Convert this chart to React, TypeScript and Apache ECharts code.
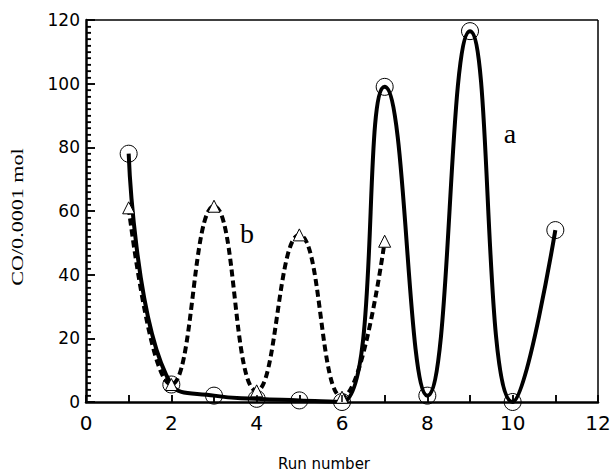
import React, { useEffect, useRef } from "react";
import * as echarts from "echarts";

const runs = [1, 2, 3, 4, 5, 6, 7, 8, 9, 10, 11];
const seriesA = [78, 5.5, 2, 1, 0.5, 0, 99, 2, 116.5, 0, 54];
const seriesB = [61, 5.5, 61.5, 3.5, 52.5, 1.5, 50.5];
const xTicks = [0, 2, 4, 6, 8, 10, 12];
const yTicks = [0, 20, 40, 60, 80, 100, 120];

export default function App() {
  const ref = useRef<HTMLDivElement>(null);
  useEffect(() => {
    document.body.style.margin = "0";
    const chart = echarts.init(ref.current!, null, { renderer: "svg" });
    const sans = "DejaVu Sans";
    const serif = "Liberation Serif";
    const xMin = xTicks[0];
    const xMax = xTicks[xTicks.length - 1];
    const yMin = yTicks[0];
    const yMax = yTicks[yTicks.length - 1];

    const gridLeft = 86;
    const gridRight = 18;
    const gridTop = 20;
    const gridBottom = 73;
    const plotW = 616 - gridLeft - gridRight;
    const plotH = 475 - gridTop - gridBottom;
    const pxX = (xMax - xMin) / plotW; // value units per pixel, x
    const pxY = (yMax - yMin) / plotH; // value units per pixel, y

    // tick segments as mark lines (inward ticks)
    const tickLines: any[] = [];
    for (let v = xMin; v <= xMax; v += 1) {
      tickLines.push([{ coord: [v, yMin] }, { coord: [v, yMin + 7 * pxY] }]);
    }
    for (let v = yMin; v <= yMax; v += 2) {
      const len = v % 20 === 0 ? 9 : 5;
      tickLines.push([{ coord: [xMin, v] }, { coord: [xMin + len * pxX, v] }]);
    }
    // top and right frame
    tickLines.push([{ coord: [xMin, yMax] }, { coord: [xMax, yMax] }]);
    tickLines.push([{ coord: [xMax, yMin] }, { coord: [xMax, yMax] }]);

    chart.setOption({
      animation: false,
      grid: { left: gridLeft, top: gridTop, right: gridRight, bottom: gridBottom },
      xAxis: {
        type: "value",
        min: xMin,
        max: xMax,
        interval: 2,
        axisLine: { show: true, onZero: false, lineStyle: { color: "#000", width: 2.5 } },
        axisTick: { show: true, inside: true, length: 7, lineStyle: { color: "#000", width: 1.5 } },
        minorTick: { show: true, splitNumber: 2, length: 7, lineStyle: { color: "#000", width: 1.5 } },
        axisLabel: { color: "#000", fontSize: 20, fontFamily: sans, margin: 11 },
        splitLine: { show: true, lineStyle: { color: "rgba(255,255,255,0)" } },
      },
      yAxis: {
        type: "value",
        min: yMin,
        max: yMax,
        interval: 20,
        axisLine: { show: true, onZero: false, lineStyle: { color: "#000", width: 2.5 } },
        axisTick: { show: true, inside: true, length: 9, lineStyle: { color: "#000", width: 1.5 } },
        minorTick: { show: true, splitNumber: 10, length: 5, lineStyle: { color: "#000", width: 1.2 } },
        axisLabel: { color: "#000", fontSize: 17, fontFamily: sans, margin: 6 },
        splitLine: { show: true, lineStyle: { color: "rgba(255,255,255,0)" } },
      },
      graphic: [
        {
          type: "text",
          x: 17,
          y: 217,
          rotation: Math.PI / 2,
          scaleX: 1.3,
          style: {
            text: "CO/0.0001 mol",
            fontFamily: serif,
            fontSize: 17,
            fill: "#000",
            align: "center",
            verticalAlign: "middle",
          },
        },
        {
          type: "text",
          x: 324,
          y: 464,
          style: {
            text: "Run number",
            fontFamily: sans,
            fontSize: 15,
            fill: "#000",
            align: "center",
            verticalAlign: "middle",
          },
        },
        {
          type: "text",
          x: 510,
          y: 133,
          style: { text: "a", fontFamily: serif, fontSize: 28, fill: "#000", align: "center", verticalAlign: "middle" },
        },
        {
          type: "text",
          x: 247,
          y: 233,
          style: { text: "b", fontFamily: serif, fontSize: 28, fill: "#000", align: "center", verticalAlign: "middle" },
        },
      ],
      series: [
        {
          name: "a",
          type: "line",
          smooth: 0.5,
          clip: false,
          data: runs.map((r, i) => [r, seriesA[i]]),
          lineStyle: { color: "#000", width: 4 },
          symbol: "circle",
          symbolSize: 17,
          itemStyle: { color: "rgba(0,0,0,0)", borderColor: "#000", borderWidth: 1 },
          markLine: {
            silent: true,
            symbol: "none",
            animation: false,
            label: { show: false },
            emphasis: { disabled: true },
            lineStyle: { color: "#000", width: 1.5, type: "solid" },
            data: tickLines,
          },
          z: 2,
        },
        {
          name: "b",
          type: "line",
          smooth: 0.5,
          clip: false,
          data: seriesB.map((v, i) => [runs[i], v]),
          lineStyle: { color: "#000", width: 4, type: [7, 4] },
          symbol: "triangle",
          symbolSize: 12,
          itemStyle: { color: "#fff", borderColor: "#000", borderWidth: 1 },
          z: 3,
        },
      ],
    });
    return () => chart.dispose();
  }, []);
  return <div ref={ref} style={{ width: 616, height: 475 }} />;
}
